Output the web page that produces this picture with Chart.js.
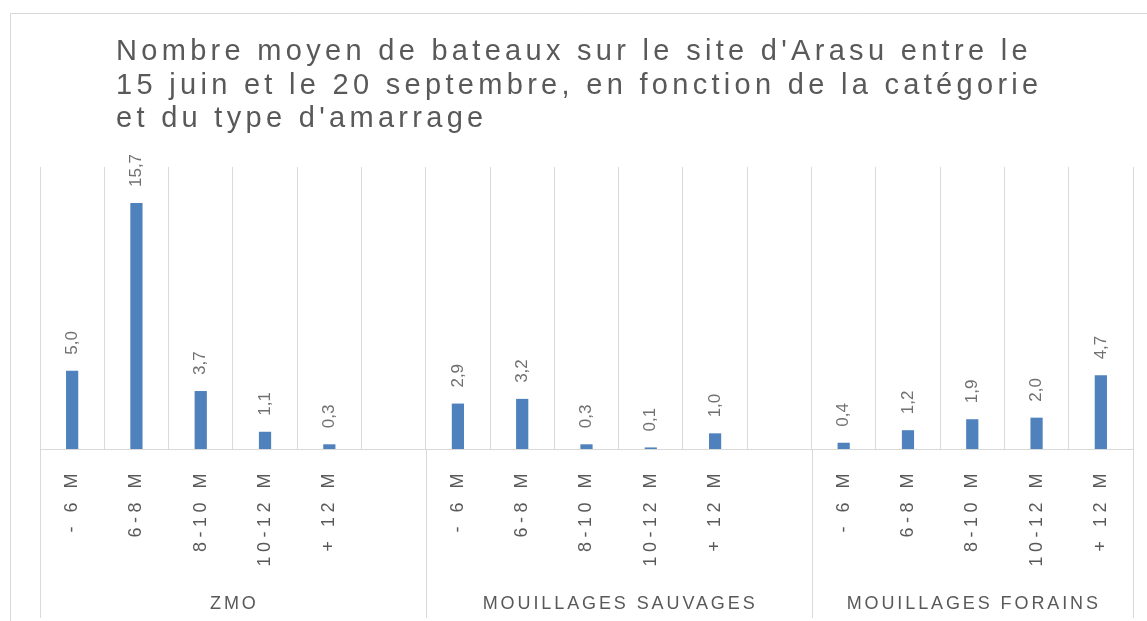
<!DOCTYPE html>
<html>
<head>
<meta charset="utf-8">
<script src="https://cdn.jsdelivr.net/npm/chart.js@4.4.0/dist/chart.umd.min.js"></script>
<style>
  body { margin: 0; background: #fff; }
  #wrap { width: 1147px; height: 621px; position: relative; }
</style>
</head>
<body>
<div id="wrap"><canvas id="chart"></canvas></div>
<script>
// Data
const sizeClasses = ['- 6 M', '6-8 M', '8-10 M', '10-12 M', '+ 12 M'];
const groups = ['ZMO', 'MOUILLAGES SAUVAGES', 'MOUILLAGES FORAINS'];
const zmo = [5.0, 15.7, 3.7, 1.1, 0.3];
const sauvages = [2.9, 3.2, 0.3, 0.1, 1.0];
const forains = [0.4, 1.2, 1.9, 2.0, 4.7];
const titleLines = [
    "Nombre moyen de bateaux sur le site d'Arasu entre le",
    "15 juin et le 20 septembre, en fonction de la catégorie",
    "et du type d'amarrage"
];

// One empty slot after each of the first two groups
const labels = [...sizeClasses, '', ...sizeClasses, '', ...sizeClasses];
const values = [...zmo, null, ...sauvages, null, ...forains];
const groupStarts = [0, 6, 12, labels.length];

const GRID = '#d9d9d9';
const TEXT = '#595959';

// Format 15.7 -> "15,7"
function frNumber(v) {
    return v.toFixed(1).replace('.', ',');
}

// Letter spacing for the tick labels (measured and drawn by Chart.js)
const spacingPlugin = {
    id: 'spacing',
    beforeLayout(chart) { chart.ctx.letterSpacing = '4.5px'; },
    beforeDraw(chart) { chart.ctx.letterSpacing = '4.5px'; }
};

// Frame, title, group separators and group names
const decorPlugin = {
    id: 'decor',
    beforeDraw(chart) {
        const ctx = chart.ctx;
        ctx.save();
        ctx.strokeStyle = GRID;
        ctx.lineWidth = 1;
        ctx.beginPath();
        ctx.moveTo(10.5, chart.height);
        ctx.lineTo(10.5, 13.5);
        ctx.lineTo(chart.width, 13.5);
        ctx.stroke();

        ctx.letterSpacing = '4.3px';
        ctx.fillStyle = TEXT;
        ctx.font = '29px "Liberation Sans", Arial, sans-serif';
        ctx.textAlign = 'left';
        ctx.textBaseline = 'alphabetic';
        titleLines.forEach((line, i) => {
            ctx.fillText(line, 116, 60 + i * 33.5);
        });
        ctx.restore();
    },
    afterDraw(chart) {
        const ctx = chart.ctx;
        const x = chart.scales.x;
        const half = (x.getPixelForValue(1) - x.getPixelForValue(0)) / 2;
        const edge = i => x.getPixelForValue(i) - half;
        const bottom = chart.chartArea.bottom;

        ctx.save();
        ctx.strokeStyle = GRID;
        ctx.lineWidth = 1;
        groupStarts.forEach(i => {
            const px = Math.round(edge(i)) + 0.5;
            ctx.beginPath();
            ctx.moveTo(px, bottom);
            ctx.lineTo(px, 618);
            ctx.stroke();
        });

        ctx.letterSpacing = '2.9px';
        ctx.fillStyle = TEXT;
        ctx.font = '18px "Liberation Sans", Arial, sans-serif';
        ctx.textAlign = 'center';
        ctx.textBaseline = 'middle';
        groups.forEach((name, g) => {
            const cx = (edge(groupStarts[g]) + edge(groupStarts[g + 1])) / 2;
            ctx.fillText(name, cx + 1.5, 604);
        });
        ctx.restore();
    }
};

// Rotated value labels above each bar
const valueLabelPlugin = {
    id: 'valueLabels',
    afterDatasetsDraw(chart) {
        const ctx = chart.ctx;
        const meta = chart.getDatasetMeta(0);
        ctx.save();
        ctx.letterSpacing = '0px';
        ctx.fillStyle = '#707070';
        ctx.font = '17px "Liberation Sans", Arial, sans-serif';
        ctx.textAlign = 'left';
        ctx.textBaseline = 'middle';
        meta.data.forEach((bar, i) => {
            const v = values[i];
            if (v === null) return;
            ctx.save();
            ctx.translate(bar.x, bar.y - 16);
            ctx.rotate(-Math.PI / 2);
            ctx.fillText(frNumber(v), 0, 0);
            ctx.restore();
        });
        ctx.restore();
    }
};

new Chart(document.getElementById('chart'), {
    type: 'bar',
    data: {
        labels: labels,
        datasets: [{
            data: values,
            backgroundColor: '#4f81bd',
            barPercentage: 0.19,
            categoryPercentage: 1
        }]
    },
    options: {
        responsive: true,
        maintainAspectRatio: false,
        animation: false,
        layout: {
            padding: { top: 167, left: 40, right: 14, bottom: 0 }
        },
        plugins: {
            legend: { display: false },
            title: { display: false },
            tooltip: { enabled: false }
        },
        scales: {
            x: {
                grid: {
                    color: GRID,
                    lineWidth: 1,
                    offset: true,
                    drawTicks: false
                },
                border: { display: true, color: GRID },
                ticks: {
                    autoSkip: false,
                    maxRotation: 90,
                    minRotation: 90,
                    padding: 20,
                    color: TEXT,
                    font: { family: '"Liberation Sans", Arial, sans-serif', size: 18 }
                },
                afterFit(scale) { scale.height = 172; }
            },
            y: {
                display: false,
                min: 0,
                max: 18
            }
        }
    },
    plugins: [spacingPlugin, decorPlugin, valueLabelPlugin]
});
</script>
</body>
</html>
